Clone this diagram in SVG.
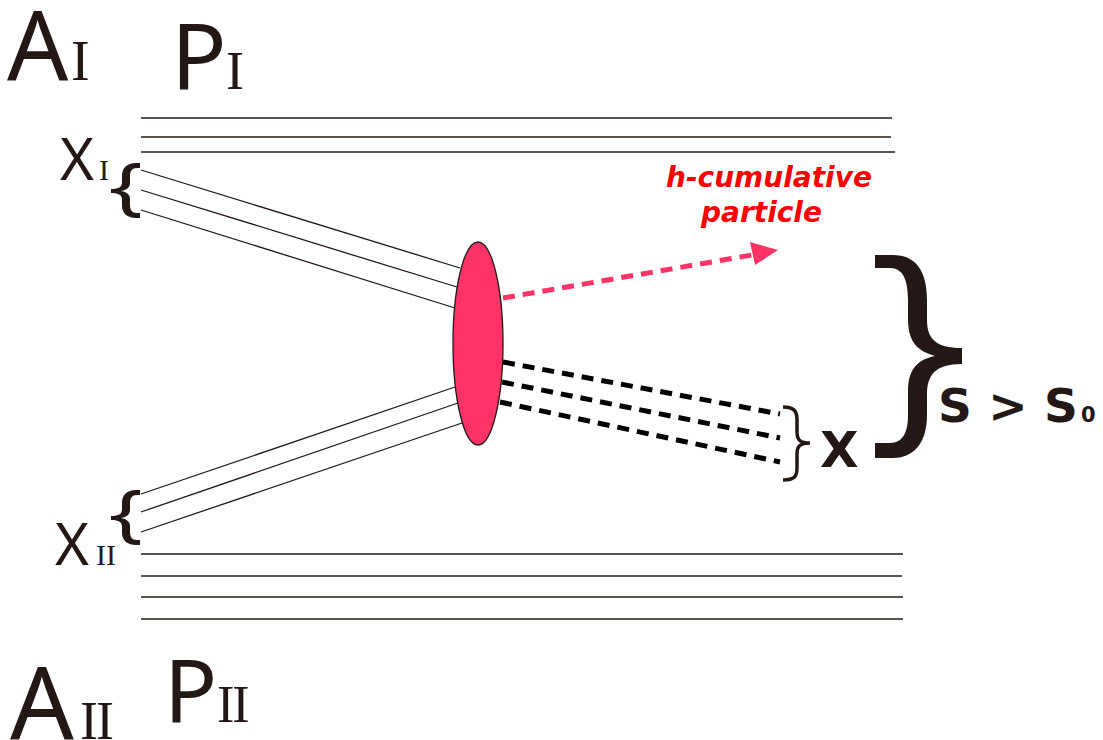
<svg xmlns="http://www.w3.org/2000/svg" width="1103" height="740" viewBox="0 0 1103 740">
<style>
.rail{stroke:#231815;stroke-width:1.3;fill:none}
.beam{stroke:#231815;stroke-width:1.3;fill:none}
.lab{font-family:"Noto Sans",sans-serif;fill:#231815}
.sub{font-family:"Liberation Serif",serif;fill:#231815}
.bold{font-family:"DejaVu Sans",sans-serif;font-weight:bold;fill:#231815}
.red{font-family:"DejaVu Sans",sans-serif;font-weight:bold;font-style:italic;fill:#ff0000;font-size:28px}
.blk{stroke:#000;stroke-width:5;stroke-dasharray:12 8;fill:none}
.brace{fill:#231815}
</style>
<rect width="1103" height="740" fill="#fff"/>
<g id="rails-top">
<line class="rail" x1="141" y1="118" x2="892" y2="118"/>
<line class="rail" x1="141" y1="137" x2="891" y2="137"/>
<line class="rail" x1="141" y1="152" x2="895" y2="152"/>
</g>
<g id="rails-bottom">
<line class="rail" x1="141" y1="554" x2="903" y2="554"/>
<line class="rail" x1="141" y1="576" x2="902" y2="576"/>
<line class="rail" x1="141" y1="597" x2="903" y2="597"/>
<line class="rail" x1="141" y1="619" x2="903" y2="619"/>
</g>
<g id="connectors">
<line class="beam" x1="141" y1="170" x2="460" y2="268"/>
<line class="beam" x1="141" y1="190" x2="457" y2="287"/>
<line class="beam" x1="141" y1="210" x2="455" y2="308"/>
<line class="beam" x1="141" y1="494" x2="455" y2="387"/>
<line class="beam" x1="141" y1="512" x2="458" y2="403"/>
<line class="beam" x1="141" y1="532" x2="462" y2="423"/>
<line stroke="#ff3366" stroke-width="5" stroke-dasharray="12 8" x1="503" y1="298" x2="752" y2="255"/>
<path d="M750,242 L778,250 L755,265 Z" fill="#ff3366"/>
<line class="blk" x1="503" y1="362" x2="780" y2="414"/>
<line class="blk" x1="502" y1="382" x2="780" y2="438"/>
<line class="blk" x1="500" y1="402" x2="780" y2="462"/>
</g>
<g id="vertex">
<ellipse cx="478" cy="343.5" rx="25" ry="101.5" fill="#ff3366" stroke="#231815" stroke-width="1.3"/>
</g>
<g id="label-AI">
<text class="lab" x="7" y="80" font-size="96">A</text>
<text class="sub" x="71" y="80" font-size="56">I</text>
</g>
<g id="label-PI">
<text class="lab" x="171" y="89" font-size="92">P</text>
<text class="sub" x="226" y="89" font-size="54">I</text>
</g>
<g id="label-XI">
<text class="lab" x="60" y="180" font-size="58">X</text>
<text class="sub" x="99" y="180" font-size="30">I</text>
<path class="brace" d="M140,163 L136,163 C127,163 122,168 122,176 L122,182 C122,187 119,189 111,189 L111,193 C119,193 122,195 122,200 L122,206 C122,213 127,218 136,218 L140,218 L140,213 L137,213 C132,213 130,210 130,205 L130,199 C130,195 127,192 121,191 C127,190 130,187 130,183 L130,176 C130,171 132,168 137,168 L140,168 Z"/>
</g>
<g id="label-XII">
<text class="lab" x="55" y="565" font-size="58">X</text>
<text class="sub" x="96" y="565" font-size="30">II</text>
<path class="brace" d="M140,490 L136,490 C127,490 122,495 122,503 L122,509 C122,514 119,516 111,516 L111,520 C119,520 122,522 122,527 L122,533 C122,540 127,545 136,545 L140,545 L140,540 L137,540 C132,540 130,537 130,532 L130,526 C130,522 127,519 121,518 C127,517 130,514 130,510 L130,503 C130,498 132,495 137,495 L140,495 Z"/>
</g>
<g id="label-AII">
<text class="lab" x="10" y="739" font-size="100">A</text>
<text class="sub" x="80" y="739" font-size="54" letter-spacing="-2">II</text>
</g>
<g id="label-PII">
<text class="lab" x="164" y="722" font-size="88">P</text>
<text class="sub" x="217" y="722" font-size="52" letter-spacing="-2">II</text>
</g>
<g id="label-h">
<text class="red" x="666" y="187">h-cumulative</text>
<text class="red" x="701" y="222">particle</text>
</g>
<g id="label-X">
<path d="M783,407 C795,407 797,412 797,420 L797,432 C797,440 800,443 810,443 C800,443 797,446 797,454 L797,468 C797,476 795,480 783,480" fill="none" stroke="#231815" stroke-width="3.5"/>
<text class="bold" x="820" y="467" font-size="50">X</text>
</g>
<g id="label-S">
<path class="brace" d="M875,255 L893,255 C915,255 927,270 927,300 L927,320 C927,338 935,348 962,348 L962,364 C935,364 927,375 927,395 L927,415 C927,445 912,458 893,458 L875,458 L875,443 L890,443 C903,443 908,432 908,415 L908,392 C908,372 915,360 935,356 C915,350 908,340 908,318 L908,300 C908,280 903,268 890,268 L875,268 Z"/>
<text class="bold" x="938" y="422" font-size="47">S &gt; S</text>
<text class="bold" x="1081" y="422" font-size="21">0</text>
</g>
</svg>
